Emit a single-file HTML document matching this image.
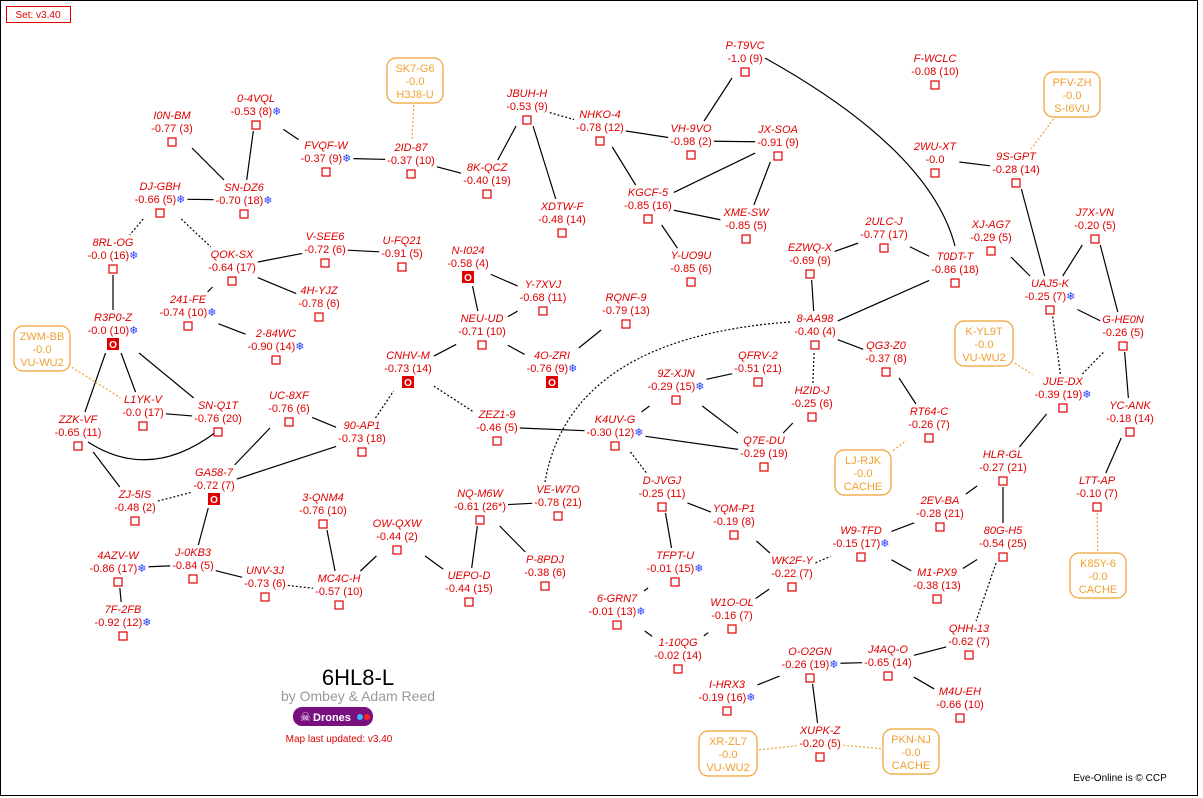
<!DOCTYPE html>
<html><head><meta charset="utf-8"><style>
body{margin:0;background:#fff}
svg{display:block;font-family:"Liberation Sans",Verdana,sans-serif}
.n{font-size:11px;font-style:italic;fill:#e00000;text-anchor:middle}
.v{font-size:11px;fill:#e00000;text-anchor:middle}
.s{fill:#2040ff}
rect.q{fill:#fff;stroke:#e00000;stroke-width:1.2}
rect.o{fill:#e00000}
.ot{font-size:10px;font-weight:bold;fill:#fff;text-anchor:middle}
.ob rect{fill:#fff;stroke:#f0a030;stroke-width:1.2}
.ob text{font-size:11px;fill:#f0a030;text-anchor:middle}
</style></head><body>
<svg id="m" width="1203" height="798" viewBox="0 0 1203 798">
<rect x="0.5" y="0.5" width="1197" height="795" fill="#fff" stroke="#000"/>
<rect x="6.5" y="6.5" width="64" height="16" fill="#fff" stroke="#e00000"/>
<text x="38" y="18" font-size="10" fill="#e00000" text-anchor="middle">Set: v3.40</text>
<g id="edges"></g>
<g id="nodes">
<g id="P-T9VC" transform="translate(745,49)"><text class="n">P-T9VC</text><text class="v" y="13">-1.0 (9)</text><rect class="q" x="-4" y="19" width="8" height="8"/></g>
<g id="F-WCLC" transform="translate(935,62)"><text class="n">F-WCLC</text><text class="v" y="13">-0.08 (10)</text><rect class="q" x="-4" y="19" width="8" height="8"/></g>
<g id="I0N-BM" transform="translate(172,119)"><text class="n">I0N-BM</text><text class="v" y="13">-0.77 (3)</text><rect class="q" x="-4" y="19" width="8" height="8"/></g>
<g id="0-4VQL" transform="translate(256,102)"><text class="n">0-4VQL</text><text class="v" y="13">-0.53 (8)<tspan class="s">❄</tspan></text><rect class="q" x="-4" y="19" width="8" height="8"/></g>
<g id="JBUH-H" transform="translate(527,97)"><text class="n">JBUH-H</text><text class="v" y="13">-0.53 (9)</text><rect class="q" x="-4" y="19" width="8" height="8"/></g>
<g id="NHKO-4" transform="translate(600,118)"><text class="n">NHKO-4</text><text class="v" y="13">-0.78 (12)</text><rect class="q" x="-4" y="19" width="8" height="8"/></g>
<g id="VH-9VO" transform="translate(691,132)"><text class="n">VH-9VO</text><text class="v" y="13">-0.98 (2)</text><rect class="q" x="-4" y="19" width="8" height="8"/></g>
<g id="JX-SOA" transform="translate(778,133)"><text class="n">JX-SOA</text><text class="v" y="13">-0.91 (9)</text><rect class="q" x="-4" y="19" width="8" height="8"/></g>
<g id="FVQF-W" transform="translate(326,149)"><text class="n">FVQF-W</text><text class="v" y="13">-0.37 (9)<tspan class="s">❄</tspan></text><rect class="q" x="-4" y="19" width="8" height="8"/></g>
<g id="2ID-87" transform="translate(411,151)"><text class="n">2ID-87</text><text class="v" y="13">-0.37 (10)</text><rect class="q" x="-4" y="19" width="8" height="8"/></g>
<g id="8K-QCZ" transform="translate(487,171)"><text class="n">8K-QCZ</text><text class="v" y="13">-0.40 (19)</text><rect class="q" x="-4" y="19" width="8" height="8"/></g>
<g id="2WU-XT" transform="translate(935,150)"><text class="n">2WU-XT</text><text class="v" y="13">-0.0</text><rect class="q" x="-4" y="19" width="8" height="8"/></g>
<g id="9S-GPT" transform="translate(1016,160)"><text class="n">9S-GPT</text><text class="v" y="13">-0.28 (14)</text><rect class="q" x="-4" y="19" width="8" height="8"/></g>
<g id="DJ-GBH" transform="translate(160,190)"><text class="n">DJ-GBH</text><text class="v" y="13">-0.66 (5)<tspan class="s">❄</tspan></text><rect class="q" x="-4" y="19" width="8" height="8"/></g>
<g id="SN-DZ6" transform="translate(244,191)"><text class="n">SN-DZ6</text><text class="v" y="13">-0.70 (18)<tspan class="s">❄</tspan></text><rect class="q" x="-4" y="19" width="8" height="8"/></g>
<g id="KGCF-5" transform="translate(648,196)"><text class="n">KGCF-5</text><text class="v" y="13">-0.85 (16)</text><rect class="q" x="-4" y="19" width="8" height="8"/></g>
<g id="XDTW-F" transform="translate(562,210)"><text class="n">XDTW-F</text><text class="v" y="13">-0.48 (14)</text><rect class="q" x="-4" y="19" width="8" height="8"/></g>
<g id="XME-SW" transform="translate(746,216)"><text class="n">XME-SW</text><text class="v" y="13">-0.85 (5)</text><rect class="q" x="-4" y="19" width="8" height="8"/></g>
<g id="2ULC-J" transform="translate(884,225)"><text class="n">2ULC-J</text><text class="v" y="13">-0.77 (17)</text><rect class="q" x="-4" y="19" width="8" height="8"/></g>
<g id="XJ-AG7" transform="translate(991,228)"><text class="n">XJ-AG7</text><text class="v" y="13">-0.29 (5)</text><rect class="q" x="-4" y="19" width="8" height="8"/></g>
<g id="J7X-VN" transform="translate(1095,216)"><text class="n">J7X-VN</text><text class="v" y="13">-0.20 (5)</text><rect class="q" x="-4" y="19" width="8" height="8"/></g>
<g id="8RL-OG" transform="translate(113,246)"><text class="n">8RL-OG</text><text class="v" y="13">-0.0 (16)<tspan class="s">❄</tspan></text><rect class="q" x="-4" y="19" width="8" height="8"/></g>
<g id="V-SEE6" transform="translate(325,240)"><text class="n">V-SEE6</text><text class="v" y="13">-0.72 (6)</text><rect class="q" x="-4" y="19" width="8" height="8"/></g>
<g id="U-FQ21" transform="translate(402,244)"><text class="n">U-FQ21</text><text class="v" y="13">-0.91 (5)</text><rect class="q" x="-4" y="19" width="8" height="8"/></g>
<g id="QOK-SX" transform="translate(232,258)"><text class="n">QOK-SX</text><text class="v" y="13">-0.64 (17)</text><rect class="q" x="-4" y="19" width="8" height="8"/></g>
<g id="EZWQ-X" transform="translate(810,251)"><text class="n">EZWQ-X</text><text class="v" y="13">-0.69 (9)</text><rect class="q" x="-4" y="19" width="8" height="8"/></g>
<g id="N-I024" transform="translate(468,254)"><text class="n">N-I024</text><text class="v" y="13">-0.58 (4)</text><rect class="o" x="-6" y="17" width="12" height="12"/><text class="ot" y="27">O</text></g>
<g id="Y-7XVJ" transform="translate(543,288)"><text class="n">Y-7XVJ</text><text class="v" y="13">-0.68 (11)</text><rect class="q" x="-4" y="19" width="8" height="8"/></g>
<g id="T0DT-T" transform="translate(955,260)"><text class="n">T0DT-T</text><text class="v" y="13">-0.86 (18)</text><rect class="q" x="-4" y="19" width="8" height="8"/></g>
<g id="Y-UO9U" transform="translate(691,259)"><text class="n">Y-UO9U</text><text class="v" y="13">-0.85 (6)</text><rect class="q" x="-4" y="19" width="8" height="8"/></g>
<g id="4H-YJZ" transform="translate(319,294)"><text class="n">4H-YJZ</text><text class="v" y="13">-0.78 (6)</text><rect class="q" x="-4" y="19" width="8" height="8"/></g>
<g id="UAJ5-K" transform="translate(1050,287)"><text class="n">UAJ5-K</text><text class="v" y="13">-0.25 (7)<tspan class="s">❄</tspan></text><rect class="q" x="-4" y="19" width="8" height="8"/></g>
<g id="RQNF-9" transform="translate(626,301)"><text class="n">RQNF-9</text><text class="v" y="13">-0.79 (13)</text><rect class="q" x="-4" y="19" width="8" height="8"/></g>
<g id="241-FE" transform="translate(188,303)"><text class="n">241-FE</text><text class="v" y="13">-0.74 (10)<tspan class="s">❄</tspan></text><rect class="q" x="-4" y="19" width="8" height="8"/></g>
<g id="NEU-UD" transform="translate(482,322)"><text class="n">NEU-UD</text><text class="v" y="13">-0.71 (10)</text><rect class="q" x="-4" y="19" width="8" height="8"/></g>
<g id="8-AA98" transform="translate(815,322)"><text class="n">8-AA98</text><text class="v" y="13">-0.40 (4)</text><rect class="q" x="-4" y="19" width="8" height="8"/></g>
<g id="G-HE0N" transform="translate(1123,323)"><text class="n">G-HE0N</text><text class="v" y="13">-0.26 (5)</text><rect class="q" x="-4" y="19" width="8" height="8"/></g>
<g id="R3P0-Z" transform="translate(113,321)"><text class="n">R3P0-Z</text><text class="v" y="13">-0.0 (10)<tspan class="s">❄</tspan></text><rect class="o" x="-6" y="17" width="12" height="12"/><text class="ot" y="27">O</text></g>
<g id="2-84WC" transform="translate(276,337)"><text class="n">2-84WC</text><text class="v" y="13">-0.90 (14)<tspan class="s">❄</tspan></text><rect class="q" x="-4" y="19" width="8" height="8"/></g>
<g id="QG3-Z0" transform="translate(886,349)"><text class="n">QG3-Z0</text><text class="v" y="13">-0.37 (8)</text><rect class="q" x="-4" y="19" width="8" height="8"/></g>
<g id="CNHV-M" transform="translate(408,359)"><text class="n">CNHV-M</text><text class="v" y="13">-0.73 (14)</text><rect class="o" x="-6" y="17" width="12" height="12"/><text class="ot" y="27">O</text></g>
<g id="4O-ZRI" transform="translate(552,359)"><text class="n">4O-ZRI</text><text class="v" y="13">-0.76 (9)<tspan class="s">❄</tspan></text><rect class="o" x="-6" y="17" width="12" height="12"/><text class="ot" y="27">O</text></g>
<g id="QFRV-2" transform="translate(758,359)"><text class="n">QFRV-2</text><text class="v" y="13">-0.51 (21)</text><rect class="q" x="-4" y="19" width="8" height="8"/></g>
<g id="9Z-XJN" transform="translate(676,377)"><text class="n">9Z-XJN</text><text class="v" y="13">-0.29 (15)<tspan class="s">❄</tspan></text><rect class="q" x="-4" y="19" width="8" height="8"/></g>
<g id="JUE-DX" transform="translate(1063,385)"><text class="n">JUE-DX</text><text class="v" y="13">-0.39 (19)<tspan class="s">❄</tspan></text><rect class="q" x="-4" y="19" width="8" height="8"/></g>
<g id="HZID-J" transform="translate(812,394)"><text class="n">HZID-J</text><text class="v" y="13">-0.25 (6)</text><rect class="q" x="-4" y="19" width="8" height="8"/></g>
<g id="UC-8XF" transform="translate(289,399)"><text class="n">UC-8XF</text><text class="v" y="13">-0.76 (6)</text><rect class="q" x="-4" y="19" width="8" height="8"/></g>
<g id="L1YK-V" transform="translate(143,403)"><text class="n">L1YK-V</text><text class="v" y="13">-0.0 (17)</text><rect class="q" x="-4" y="19" width="8" height="8"/></g>
<g id="SN-Q1T" transform="translate(218,409)"><text class="n">SN-Q1T</text><text class="v" y="13">-0.76 (20)</text><rect class="q" x="-4" y="19" width="8" height="8"/></g>
<g id="90-AP1" transform="translate(362,429)"><text class="n">90-AP1</text><text class="v" y="13">-0.73 (18)</text><rect class="q" x="-4" y="19" width="8" height="8"/></g>
<g id="ZZK-VF" transform="translate(78,423)"><text class="n">ZZK-VF</text><text class="v" y="13">-0.65 (11)</text><rect class="q" x="-4" y="19" width="8" height="8"/></g>
<g id="RT64-C" transform="translate(929,415)"><text class="n">RT64-C</text><text class="v" y="13">-0.26 (7)</text><rect class="q" x="-4" y="19" width="8" height="8"/></g>
<g id="ZEZ1-9" transform="translate(497,418)"><text class="n">ZEZ1-9</text><text class="v" y="13">-0.46 (5)</text><rect class="q" x="-4" y="19" width="8" height="8"/></g>
<g id="K4UV-G" transform="translate(615,423)"><text class="n">K4UV-G</text><text class="v" y="13">-0.30 (12)<tspan class="s">❄</tspan></text><rect class="q" x="-4" y="19" width="8" height="8"/></g>
<g id="YC-ANK" transform="translate(1130,409)"><text class="n">YC-ANK</text><text class="v" y="13">-0.18 (14)</text><rect class="q" x="-4" y="19" width="8" height="8"/></g>
<g id="Q7E-DU" transform="translate(764,444)"><text class="n">Q7E-DU</text><text class="v" y="13">-0.29 (19)</text><rect class="q" x="-4" y="19" width="8" height="8"/></g>
<g id="HLR-GL" transform="translate(1003,458)"><text class="n">HLR-GL</text><text class="v" y="13">-0.27 (21)</text><rect class="q" x="-4" y="19" width="8" height="8"/></g>
<g id="GA58-7" transform="translate(214,476)"><text class="n">GA58-7</text><text class="v" y="13">-0.72 (7)</text><rect class="o" x="-6" y="17" width="12" height="12"/><text class="ot" y="27">O</text></g>
<g id="D-JVGJ" transform="translate(662,484)"><text class="n">D-JVGJ</text><text class="v" y="13">-0.25 (11)</text><rect class="q" x="-4" y="19" width="8" height="8"/></g>
<g id="LTT-AP" transform="translate(1097,484)"><text class="n">LTT-AP</text><text class="v" y="13">-0.10 (7)</text><rect class="q" x="-4" y="19" width="8" height="8"/></g>
<g id="ZJ-5IS" transform="translate(135,498)"><text class="n">ZJ-5IS</text><text class="v" y="13">-0.48 (2)</text><rect class="q" x="-4" y="19" width="8" height="8"/></g>
<g id="3-QNM4" transform="translate(323,501)"><text class="n">3-QNM4</text><text class="v" y="13">-0.76 (10)</text><rect class="q" x="-4" y="19" width="8" height="8"/></g>
<g id="NQ-M6W" transform="translate(480,497)"><text class="n">NQ-M6W</text><text class="v" y="13">-0.61 (26*)</text><rect class="q" x="-4" y="19" width="8" height="8"/></g>
<g id="VE-W7O" transform="translate(558,493)"><text class="n">VE-W7O</text><text class="v" y="13">-0.78 (21)</text><rect class="q" x="-4" y="19" width="8" height="8"/></g>
<g id="2EV-BA" transform="translate(940,504)"><text class="n">2EV-BA</text><text class="v" y="13">-0.28 (21)</text><rect class="q" x="-4" y="19" width="8" height="8"/></g>
<g id="80G-H5" transform="translate(1003,534)"><text class="n">80G-H5</text><text class="v" y="13">-0.54 (25)</text><rect class="q" x="-4" y="19" width="8" height="8"/></g>
<g id="YQM-P1" transform="translate(734,512)"><text class="n">YQM-P1</text><text class="v" y="13">-0.19 (8)</text><rect class="q" x="-4" y="19" width="8" height="8"/></g>
<g id="OW-QXW" transform="translate(397,527)"><text class="n">OW-QXW</text><text class="v" y="13">-0.44 (2)</text><rect class="q" x="-4" y="19" width="8" height="8"/></g>
<g id="W9-TFD" transform="translate(861,534)"><text class="n">W9-TFD</text><text class="v" y="13">-0.15 (17)<tspan class="s">❄</tspan></text><rect class="q" x="-4" y="19" width="8" height="8"/></g>
<g id="4AZV-W" transform="translate(118,559)"><text class="n">4AZV-W</text><text class="v" y="13">-0.86 (17)<tspan class="s">❄</tspan></text><rect class="q" x="-4" y="19" width="8" height="8"/></g>
<g id="J-0KB3" transform="translate(193,556)"><text class="n">J-0KB3</text><text class="v" y="13">-0.84 (5)</text><rect class="q" x="-4" y="19" width="8" height="8"/></g>
<g id="UNV-3J" transform="translate(265,574)"><text class="n">UNV-3J</text><text class="v" y="13">-0.73 (6)</text><rect class="q" x="-4" y="19" width="8" height="8"/></g>
<g id="TFPT-U" transform="translate(675,559)"><text class="n">TFPT-U</text><text class="v" y="13">-0.01 (15)<tspan class="s">❄</tspan></text><rect class="q" x="-4" y="19" width="8" height="8"/></g>
<g id="P-8PDJ" transform="translate(545,563)"><text class="n">P-8PDJ</text><text class="v" y="13">-0.38 (6)</text><rect class="q" x="-4" y="19" width="8" height="8"/></g>
<g id="WK2F-Y" transform="translate(792,564)"><text class="n">WK2F-Y</text><text class="v" y="13">-0.22 (7)</text><rect class="q" x="-4" y="19" width="8" height="8"/></g>
<g id="MC4C-H" transform="translate(339,582)"><text class="n">MC4C-H</text><text class="v" y="13">-0.57 (10)</text><rect class="q" x="-4" y="19" width="8" height="8"/></g>
<g id="M1-PX9" transform="translate(937,576)"><text class="n">M1-PX9</text><text class="v" y="13">-0.38 (13)</text><rect class="q" x="-4" y="19" width="8" height="8"/></g>
<g id="UEPO-D" transform="translate(469,579)"><text class="n">UEPO-D</text><text class="v" y="13">-0.44 (15)</text><rect class="q" x="-4" y="19" width="8" height="8"/></g>
<g id="6-GRN7" transform="translate(617,602)"><text class="n">6-GRN7</text><text class="v" y="13">-0.01 (13)<tspan class="s">❄</tspan></text><rect class="q" x="-4" y="19" width="8" height="8"/></g>
<g id="W1O-OL" transform="translate(732,606)"><text class="n">W1O-OL</text><text class="v" y="13">-0.16 (7)</text><rect class="q" x="-4" y="19" width="8" height="8"/></g>
<g id="7F-2FB" transform="translate(123,613)"><text class="n">7F-2FB</text><text class="v" y="13">-0.92 (12)<tspan class="s">❄</tspan></text><rect class="q" x="-4" y="19" width="8" height="8"/></g>
<g id="QHH-13" transform="translate(969,632)"><text class="n">QHH-13</text><text class="v" y="13">-0.62 (7)</text><rect class="q" x="-4" y="19" width="8" height="8"/></g>
<g id="1-10QG" transform="translate(678,646)"><text class="n">1-10QG</text><text class="v" y="13">-0.02 (14)</text><rect class="q" x="-4" y="19" width="8" height="8"/></g>
<g id="O-O2GN" transform="translate(810,655)"><text class="n">O-O2GN</text><text class="v" y="13">-0.26 (19)<tspan class="s">❄</tspan></text><rect class="q" x="-4" y="19" width="8" height="8"/></g>
<g id="J4AQ-O" transform="translate(888,653)"><text class="n">J4AQ-O</text><text class="v" y="13">-0.65 (14)</text><rect class="q" x="-4" y="19" width="8" height="8"/></g>
<g id="I-HRX3" transform="translate(727,688)"><text class="n">I-HRX3</text><text class="v" y="13">-0.19 (16)<tspan class="s">❄</tspan></text><rect class="q" x="-4" y="19" width="8" height="8"/></g>
<g id="M4U-EH" transform="translate(960,695)"><text class="n">M4U-EH</text><text class="v" y="13">-0.66 (10)</text><rect class="q" x="-4" y="19" width="8" height="8"/></g>
<g id="XUPK-Z" transform="translate(820,734)"><text class="n">XUPK-Z</text><text class="v" y="13">-0.20 (5)</text><rect class="q" x="-4" y="19" width="8" height="8"/></g>
</g>
<g id="boxes">
<g class="ob" id="SK7-G6" transform="translate(415,80)"><rect x="-28" y="-22" width="56" height="45" rx="9"/><text y="-8">SK7-G6</text><text y="5">-0.0</text><text y="18">H3J8-U</text></g>
<g class="ob" id="PFV-ZH" transform="translate(1072,94)"><rect x="-28" y="-22" width="56" height="45" rx="9"/><text y="-8">PFV-ZH</text><text y="5">-0.0</text><text y="18">S-I6VU</text></g>
<g class="ob" id="ZWM-BB" transform="translate(42,348)"><rect x="-28" y="-22" width="56" height="45" rx="9"/><text y="-8">ZWM-BB</text><text y="5">-0.0</text><text y="18">VU-WU2</text></g>
<g class="ob" id="K-YL9T" transform="translate(984,343)"><rect x="-29" y="-22" width="58" height="45" rx="9"/><text y="-8">K-YL9T</text><text y="5">-0.0</text><text y="18">VU-WU2</text></g>
<g class="ob" id="LJ-RJK" transform="translate(863,472)"><rect x="-28" y="-22" width="56" height="45" rx="9"/><text y="-8">LJ-RJK</text><text y="5">-0.0</text><text y="18">CACHE</text></g>
<g class="ob" id="K85Y-6" transform="translate(1098,575)"><rect x="-28" y="-22" width="56" height="45" rx="9"/><text y="-8">K85Y-6</text><text y="5">-0.0</text><text y="18">CACHE</text></g>
<g class="ob" id="XR-ZL7" transform="translate(728,753)"><rect x="-29" y="-22" width="58" height="45" rx="9"/><text y="-8">XR-ZL7</text><text y="5">-0.0</text><text y="18">VU-WU2</text></g>
<g class="ob" id="PKN-NJ" transform="translate(911,751)"><rect x="-28" y="-22" width="56" height="45" rx="9"/><text y="-8">PKN-NJ</text><text y="5">-0.0</text><text y="18">CACHE</text></g>
</g>
<text x="358" y="685" font-size="22" text-anchor="middle" fill="#000">6HL8-L</text>
<text x="358" y="701" font-size="14" text-anchor="middle" fill="#999">by Ombey &amp; Adam Reed</text>
<rect x="293" y="707" width="80" height="19" rx="9" fill="#7a1080"/>
<text x="300" y="721" font-size="12" fill="#fff">☠</text>
<text x="313" y="721" font-size="11" font-weight="bold" fill="#fff">Drones</text>
<circle cx="360" cy="717" r="3" fill="#33bbff"/><circle cx="367" cy="717" r="3" fill="#ff2020"/>
<text x="339" y="742" font-size="10" text-anchor="middle" fill="#e00000">Map last updated: v3.40</text>
<text x="1120" y="781" font-size="10" text-anchor="middle" fill="#000">Eve-Online is © CCP</text>
</svg>
<script>
var E=[["P-T9VC","VH-9VO"],["VH-9VO","JX-SOA"],["NHKO-4","VH-9VO"],["JX-SOA","KGCF-5"],["JX-SOA","XME-SW"],["NHKO-4","KGCF-5"],["JBUH-H","NHKO-4",1],["KGCF-5","XME-SW"],["KGCF-5","Y-UO9U"],["JBUH-H","8K-QCZ"],["JBUH-H","XDTW-F"],["8K-QCZ","2ID-87"],["2ID-87","FVQF-W"],["FVQF-W","0-4VQL"],["0-4VQL","SN-DZ6"],["I0N-BM","SN-DZ6"],["DJ-GBH","SN-DZ6"],["DJ-GBH","QOK-SX",1],["DJ-GBH","8RL-OG",1],["8RL-OG","R3P0-Z"],["QOK-SX","V-SEE6"],["V-SEE6","U-FQ21"],["QOK-SX","4H-YJZ"],["QOK-SX","241-FE"],["241-FE","2-84WC"],["R3P0-Z","ZZK-VF"],["R3P0-Z","L1YK-V"],["R3P0-Z","SN-Q1T"],["L1YK-V","SN-Q1T"],["ZZK-VF","ZJ-5IS"],["ZJ-5IS","GA58-7",1],["GA58-7","UC-8XF"],["GA58-7","90-AP1"],["UC-8XF","90-AP1"],["90-AP1","CNHV-M",1],["CNHV-M","NEU-UD"],["CNHV-M","ZEZ1-9",1],["NEU-UD","N-I024"],["N-I024","Y-7XVJ"],["NEU-UD","Y-7XVJ"],["NEU-UD","4O-ZRI"],["4O-ZRI","RQNF-9"],["ZEZ1-9","K4UV-G"],["K4UV-G","9Z-XJN"],["K4UV-G","Q7E-DU"],["9Z-XJN","Q7E-DU"],["9Z-XJN","QFRV-2"],["Q7E-DU","HZID-J"],["HZID-J","8-AA98",1],["8-AA98","EZWQ-X"],["EZWQ-X","2ULC-J"],["8-AA98","T0DT-T"],["8-AA98","QG3-Z0"],["QG3-Z0","RT64-C"],["T0DT-T","2ULC-J"],["K4UV-G","D-JVGJ",1],["D-JVGJ","TFPT-U"],["TFPT-U","6-GRN7"],["D-JVGJ","YQM-P1"],["YQM-P1","WK2F-Y"],["WK2F-Y","W9-TFD",1],["WK2F-Y","W1O-OL"],["W1O-OL","1-10QG"],["1-10QG","6-GRN7"],["W9-TFD","2EV-BA"],["W9-TFD","M1-PX9"],["2EV-BA","HLR-GL"],["HLR-GL","80G-H5"],["HLR-GL","JUE-DX"],["80G-H5","M1-PX9"],["80G-H5","QHH-13",1],["QHH-13","J4AQ-O"],["J4AQ-O","O-O2GN"],["J4AQ-O","M4U-EH"],["O-O2GN","I-HRX3"],["O-O2GN","XUPK-Z"],["JUE-DX","UAJ5-K",1],["JUE-DX","G-HE0N",1],["UAJ5-K","9S-GPT"],["UAJ5-K","XJ-AG7"],["UAJ5-K","J7X-VN"],["J7X-VN","G-HE0N"],["G-HE0N","YC-ANK"],["UAJ5-K","G-HE0N"],["9S-GPT","2WU-XT"],["GA58-7","J-0KB3"],["J-0KB3","4AZV-W"],["4AZV-W","7F-2FB"],["J-0KB3","UNV-3J"],["UNV-3J","MC4C-H",1],["MC4C-H","3-QNM4"],["MC4C-H","OW-QXW"],["OW-QXW","UEPO-D"],["UEPO-D","NQ-M6W"],["NQ-M6W","P-8PDJ"],["NQ-M6W","VE-W7O"],["LTT-AP","YC-ANK"],
["SK7-G6","2ID-87",2],["PFV-ZH","9S-GPT",2],["ZWM-BB","L1YK-V",2],["K-YL9T","JUE-DX",2],["LJ-RJK","RT64-C",2],["K85Y-6","LTT-AP",2],["XR-ZL7","XUPK-Z",2],["PKN-NJ","XUPK-Z",2]];
function B(id){var el=document.getElementById(id);var t=el.getAttribute("transform").match(/[-\d.]+/g);var bb=el.getBBox();var x=+t[0],y=+t[1];return {cx:x+bb.x+bb.width/2,cy:y+bb.y+bb.height/2,hw:bb.width/2+2,hh:bb.height/2+2};}
function clip(a,b){var dx=b.cx-a.cx,dy=b.cy-a.cy;var t=Math.min(dx?a.hw/Math.abs(dx):1e9,dy?a.hh/Math.abs(dy):1e9);return [a.cx+dx*t,a.cy+dy*t];}
var g=document.getElementById("edges"),h="";
E.forEach(function(e){var a=B(e[0]),b=B(e[1]);var p=clip(a,b),q=clip(b,a);var st=e[2]==2?'stroke="#f0a030" stroke-dasharray="2,2"':(e[2]==1?'stroke="#000" stroke-dasharray="2,2"':'stroke="#000"');h+='<line x1="'+p[0]+'" y1="'+p[1]+'" x2="'+q[0]+'" y2="'+q[1]+'" '+st+' stroke-width="1.2"/>';});
h+='<path d="M765,58 Q930,150 955,246" fill="none" stroke="#000" stroke-width="1.2"/>';
h+='<path d="M88,442 Q150,482 216,432" fill="none" stroke="#000" stroke-width="1.2"/>';
h+='<path d="M790,322 Q570,338 545,482" fill="none" stroke="#000" stroke-dasharray="2,2" stroke-width="1.2"/>';
g.innerHTML=h;
</script>
</body></html>
